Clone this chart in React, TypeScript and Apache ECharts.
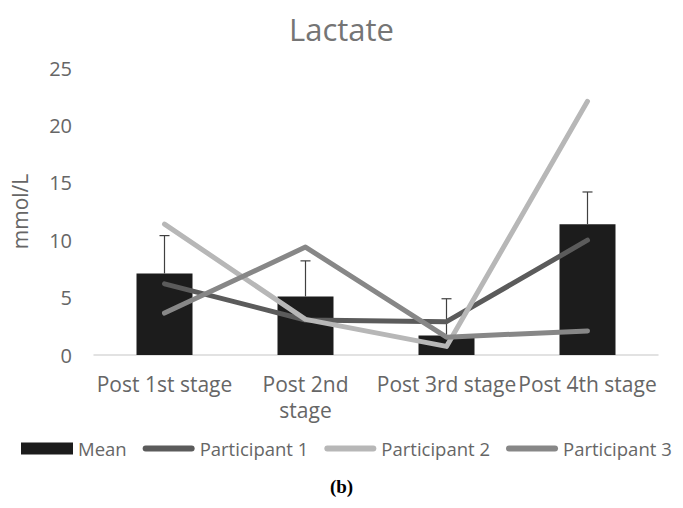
import React, { useEffect, useRef } from "react";
import * as echarts from "echarts";

const categories = ["Post 1st stage", "Post 2nd stage", "Post 3rd stage", "Post 4th stage"];
const meanValues = [7.1, 5.1, 1.7, 11.4];
const errorPlus = [3.3, 3.1, 3.2, 2.8];
const participant1 = [6.2, 3.05, 2.9, 10.0];
const participant2 = [11.4, 3.1, 0.75, 22.1];
const participant3 = [3.65, 9.4, 1.55, 2.1];
const yTicks = { min: 0, max: 25, interval: 5 };

const FONT = "Open Sans";
const TEXT = "#666666";
const LINE_ICON = "path://M3,0 L49,0 A3,3 0 0 1 49,6 L3,6 A3,3 0 0 1 3,0 Z";

export default function App() {
  const ref = useRef<HTMLDivElement>(null);
  useEffect(() => {
    if (!ref.current) return;
    const chart = echarts.init(ref.current, null, { renderer: "svg" });
    const lineSeries = (name: string, data: number[], color: string) => ({
      name,
      type: "line",
      data,
      symbol: "none",
      z: 4,
      itemStyle: { color },
      lineStyle: { color, width: 5, cap: "round", join: "round" },
    });
    chart.setOption({
      animation: false,
      backgroundColor: "#ffffff",
      textStyle: { fontFamily: FONT },
      title: {
        text: "Lactate",
        left: "center",
        top: 8,
        textStyle: { fontFamily: FONT, fontSize: 31, fontWeight: "normal", color: "#757575" },
      },
      grid: { left: 94, right: 25, top: 68, bottom: 153, containLabel: false },
      legend: {
        bottom: 50,
        left: 21,
        padding: 0,
        itemWidth: 52,
        itemHeight: 12,
        itemGap: 16,
        textStyle: { fontFamily: FONT, fontSize: 18.5, color: TEXT },
        data: [
          { name: "Mean", icon: "rect" },
          { name: "Participant 1", icon: LINE_ICON },
          { name: "Participant 2", icon: LINE_ICON },
          { name: "Participant 3", icon: LINE_ICON },
        ],
      },
      xAxis: {
        type: "category",
        data: categories,
        axisLine: { lineStyle: { color: "#d9d9d9", width: 1.5 } },
        axisTick: { show: false },
        axisLabel: {
          interval: 0,
          fontFamily: FONT,
          fontSize: 21,
          color: TEXT,
          margin: 16,
          lineHeight: 26,
          formatter: (v: string) => (v === "Post 2nd stage" ? "Post 2nd\nstage" : v),
        },
      },
      yAxis: {
        type: "value",
        min: yTicks.min,
        max: yTicks.max,
        interval: yTicks.interval,
        name: "mmol/L",
        nameLocation: "middle",
        nameRotate: 90,
        nameGap: 64,
        nameTextStyle: { fontFamily: FONT, fontSize: 21, color: TEXT },
        axisLine: { show: false },
        axisTick: { show: false },
        splitLine: { show: false },
        axisLabel: { fontFamily: FONT, fontSize: 20, color: TEXT, margin: 22 },
      },
      series: [
        {
          name: "Mean",
          type: "bar",
          data: meanValues,
          barWidth: 56,
          itemStyle: { color: "#1c1c1c" },
          z: 2,
        },
        {
          name: "error",
          type: "custom",
          z: 3,
          data: meanValues.map((m, i) => [i, m, m + errorPlus[i]]),
          renderItem: (params: any, api: any) => {
            const i = api.value(0);
            const p0 = api.coord([i, api.value(1)]);
            const p1 = api.coord([i, api.value(2)]);
            const style = { stroke: "#404040", lineWidth: 1.2 };
            return {
              type: "group",
              children: [
                { type: "line", shape: { x1: p0[0], y1: p0[1], x2: p1[0], y2: p1[1] }, style },
                { type: "line", shape: { x1: p1[0] - 5, y1: p1[1], x2: p1[0] + 5, y2: p1[1] }, style },
              ],
            };
          },
        },
        lineSeries("Participant 1", participant1, "#5b5b5b"),
        lineSeries("Participant 2", participant2, "#b7b7b7"),
        lineSeries("Participant 3", participant3, "#878787"),
      ],
      graphic: [
        {
          type: "text",
          left: "center",
          top: 477,
          style: {
            text: "(b)",
            font: "bold 19px 'Liberation Serif', serif",
            fill: "#000000",
          },
        },
      ],
    });
    return () => chart.dispose();
  }, []);
  return <div ref={ref} style={{ width: 683, height: 508, position: "absolute", left: 0, top: 0 }} />;
}
